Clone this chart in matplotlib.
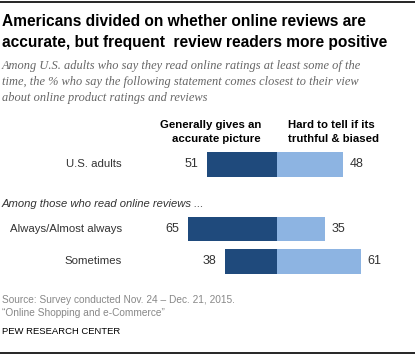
import matplotlib
matplotlib.use("Agg")
import matplotlib.pyplot as plt

# data
groups = ["U.S. adults", "Always/Almost always", "Sometimes"]
accurate = [51, 65, 38]
hard_to_tell = [48, 35, 61]
ypos = [0, 2, 3]

dark = "#1f4a7c"
light = "#8db4e2"
W, H = 415, 355

plt.rcParams["font.family"] = ["Liberation Sans", "DejaVu Sans"]
fig = plt.figure(figsize=(W / 100, H / 100), dpi=100)


def px(x, y, s, **kw):
    fig.text(x / W, 1 - y / H, s, **kw)


# axes laid out so that 0 sits at x=277px, 1 unit = 1.374px
scale = 1.374
ax = fig.add_axes([0, 0, 1, 1])
ax.set_xlim(-277 / scale, (W - 277) / scale)
unit = 32.3
ax.set_ylim((H - 164.5) / unit, -164.5 / unit)
ax.axis("off")

ax.barh(ypos, [-v for v in accurate], height=0.76, color=dark)
ax.barh(ypos, hard_to_tell, height=0.76, color=light)
for y, a, h, g in zip(ypos, accurate, hard_to_tell, groups):
    ax.text(-a - 6.5, y, str(a), ha="right", va="center", fontsize=9, color="#333333")
    ax.text(h + 5, y, str(h), ha="left", va="center", fontsize=9, color="#333333")
    ax.text(-112.8, y, g, ha="right", va="center", fontsize=8.2, color="#333333")

# rules
fig.add_artist(plt.Line2D([0, 1], [1 - 1.5 / H, 1 - 1.5 / H], color="black", lw=1.2))
fig.add_artist(plt.Line2D([0, 1], [1 - 353 / H, 1 - 353 / H], color="black", lw=1.2))

# title and subtitle
px(2, 22, "Americans divided on whether online reviews are", fontsize=11.2,
   fontweight="bold", va="center")
px(2, 43, "accurate, but frequent  review readers more positive", fontsize=11.2,
   fontweight="bold", va="center")
sub = ["Among U.S. adults who say they read online ratings at least some of the",
       "time, the % who say the following statement comes closest to their view",
       "about online product ratings and reviews"]
for i, line in enumerate(sub):
    px(2, 66 + 16 * i, line, fontsize=8.9, style="italic", color="#666666",
       family=["Liberation Serif"], va="center")

# column headers
px(261, 125, "Generally gives an", ha="right", va="center", fontsize=8.2, fontweight="bold")
px(261, 139, "accurate picture", ha="right", va="center", fontsize=8.2, fontweight="bold")
px(288, 125, "Hard to tell if its", ha="left", va="center", fontsize=8.2, fontweight="bold")
px(288, 139, "truthful & biased", ha="left", va="center", fontsize=8.2, fontweight="bold")

px(2, 204, "Among those who read online reviews ...", fontsize=8.1, style="italic",
   color="#333333", va="center")

# footer
px(2, 300, "Source: Survey conducted Nov. 24 \u2013 Dec. 21, 2015.", fontsize=7.3,
   color="#888888", va="center")
px(2, 313, "\u201cOnline Shopping and e-Commerce\u201d", fontsize=7.3, color="#888888", va="center")
px(2, 332, "PEW RESEARCH CENTER", fontsize=6.8, color="black", va="center")

fig.savefig("out.png", dpi=100)
